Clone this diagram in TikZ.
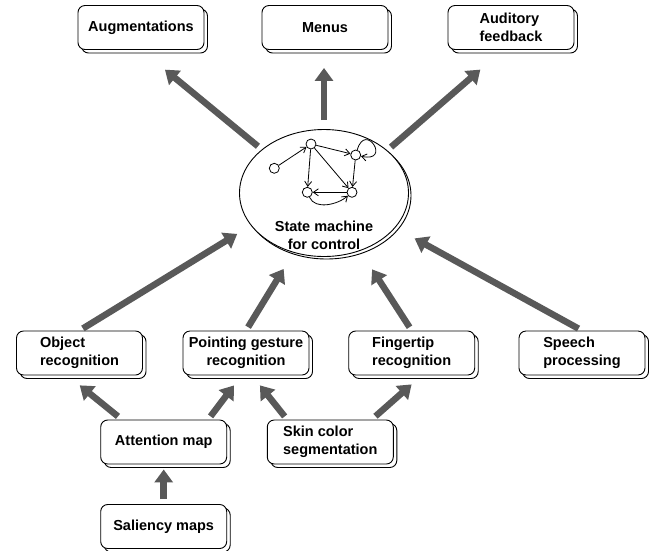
\documentclass[tikz,border=0pt]{standalone}
\usepackage{fontspec}
\setmainfont{Liberation Sans}
\usetikzlibrary{arrows.meta}
\usetikzlibrary{shapes.geometric}
\usetikzlibrary{shadows}

\definecolor{arrowgray}{RGB}{89,89,89}

\begin{document}
\begin{tikzpicture}[x=1pt, y=-1pt,
    box/.style={draw, line width=0.9pt, fill=white, rounded corners=7pt,
        minimum width=126pt, minimum height=44pt, inner sep=2pt, align=left,
        font=\bfseries\fontsize{14.5}{18}\selectfont,
        copy shadow={opacity=1, shadow xshift=3.5pt, shadow yshift=-3.5pt}},
    fat/.style={draw=arrowgray, line width=6.5pt, -{Triangle[length=13pt, width=18pt]}},
    state/.style={circle, draw, line width=0.8pt, fill=white, minimum size=10pt, inner sep=0pt},
    trans/.style={line width=0.8pt, -{Straight Barb[length=5pt, width=7pt]}}]
        \useasboundingbox (0,0) rectangle (656,550);

        % State machine
        \node[ellipse, draw, line width=0.9pt, fill=white, minimum width=169pt,
            minimum height=127pt, inner sep=0pt,
            copy shadow={opacity=1, shadow xshift=2.5pt, shadow yshift=-2.5pt}] (sm) at (324,193) {};
        \node[font=\bfseries\fontsize{14.5}{18}\selectfont, align=center] (smtext) at (324,235) {State machine\\for control};

        % little graph inside
        \node[state] (s1) at (274.3,168.3) {};
        \node[state] (s2) at (311,144) {};
        \node[state] (s3) at (355.7,155) {};
        \node[state] (s4) at (307.3,192.3) {};
        \node[state] (s5) at (352,192.3) {};
        \foreach \a/\b in {s1/s2, s2/s3, s2/s4, s2/s5, s3/s5, s5/s4} {
            \draw[trans] (\a) -- (\b);
        }
        \draw[trans] (s4) .. controls +(8,18) and +(-14,12) .. (s5);
        \draw[trans] (s3) .. controls +(10,-34) and +(36,8) .. (s3);

        % Outputs
        \node[box] (aug) at (141,27.5) {Augmentations};
        \node[box] (menu) at (325,27.5) {Menus};
        \node[box] (aud) at (511,27.5) {Auditory\\feedback};

        % Recognizers
        \node[box] (obj) at (79.5,353) {Object\\recognition};
        \node[box, align=center] (pg) at (246,353) {Pointing gesture\\recognition};
        \node[box] (ft) at (411.7,353) {Fingertip\\recognition};
        \node[box] (sp) at (582,353) {Speech\\processing};

        % Lower level
        \node[box] (attn) at (163.7,442) {Attention map};
        \node[box] (skin) at (330.3,442) {Skin color\\segmentation};
        \node[box] (sal) at (163.7,526.5) {Saliency maps};

        % Arrows out of the state machine
        \draw[fat, shorten <=5pt, shorten >=31pt] (sm.145) -- (aug.south);
        \draw[fat, shorten <=9pt, shorten >=18pt] (sm.north) -- (sm.north |- menu.south);
        \draw[fat, shorten <=5pt, shorten >=30pt] (sm.34) -- ([xshift=-8pt]aud.south);

        % Arrows into the state machine
        \draw[fat, shorten <=4pt, shorten >=16pt] (obj.north) -- (sm.204);
        \draw[fat, shorten <=4pt, shorten >=19pt] (pg.north) -- (sm.243);
        \draw[fat, shorten <=4pt, shorten >=22pt] (ft.north) -- (sm.302);
        \draw[fat, shorten <=4pt, shorten >=22pt] (sp.north) -- (sm.334);

        % Lower arrows
        \draw[fat, shorten <=5pt, shorten >=15.7pt] ([xshift=21.6pt]attn.north west) -- ([xshift=-12pt]obj.south);
        \draw[fat, shorten <=4pt, shorten >=12.5pt] ([xshift=-19pt]attn.north east) -- ([xshift=-4.5pt]pg.south);
        \draw[fat, shorten <=4pt, shorten >=12.7pt] ([xshift=20.3pt]skin.north west) -- ([xshift=6pt]pg.south);
        \draw[fat, shorten <=5pt, shorten >=13.5pt] ([xshift=-22pt]skin.north east) -- ([xshift=10pt]ft.south);
        \draw[fat, shorten <=5pt, shorten >=5pt] (sal.north) -- (attn.south);
\end{tikzpicture}
\end{document}
